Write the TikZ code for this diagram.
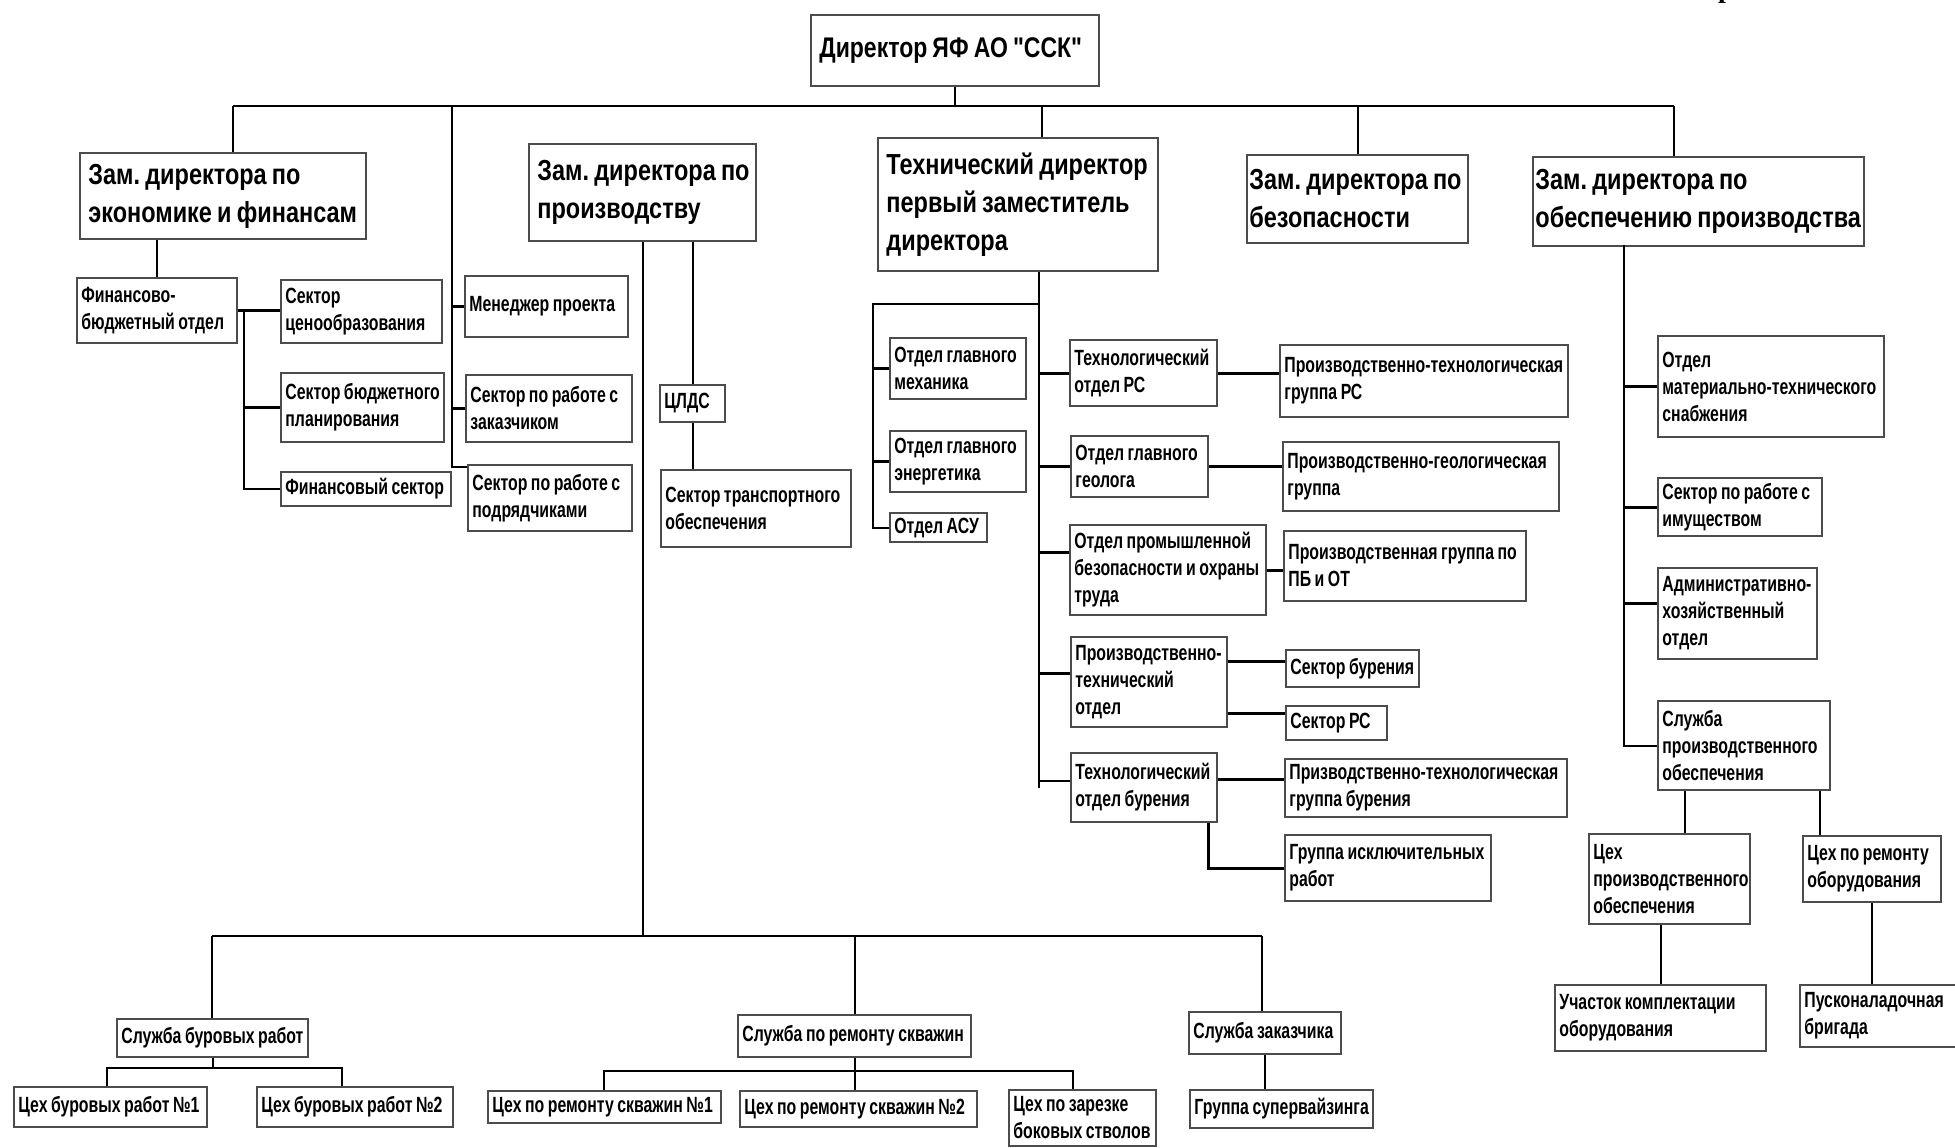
\documentclass[tikz,border=0pt]{standalone}
\usepackage{fontspec}
\setmainfont{Liberation Sans}
\newfontfamily\headfont[FakeStretch=0.81, WordSpace=0.8]{Liberation Sans}
\newfontfamily\unitfont[FakeStretch=0.72, WordSpace=0.8]{Liberation Sans}
\newfontfamily\serifbold{Liberation Serif}
\frenchspacing

\tikzset{
  unit/.style={draw=black!70, line width=1pt, anchor=north west, inner sep=0pt},
  wh/.style 2 args={minimum width=#1*0.5pt, minimum height=#2*0.5pt},
  ulbl/.style={anchor=west, align=left, inner xsep=2.5pt, inner ysep=0pt,
    font=\unitfont\bfseries\fontsize{11}{13.5}\selectfont},
  hlbl/.style={ulbl, inner xsep=4.5pt,
    font=\headfont\bfseries\fontsize{14.5}{19}\selectfont},
  utxt/.style={label={[ulbl]west:{#1}}},
  htxt/.style={label={[hlbl]west:{#1}}},
  bus/.style={line width=1.4pt},
  link/.style={line width=1pt},
  stub/.style={line width=1.5pt}
}

\begin{document}
\begin{tikzpicture}[x=0.5pt, y=-0.5pt]
\useasboundingbox (0,0) rectangle (1955,1147);

% director and deputies
\node[unit, wh={288}{71}, label={[hlbl, font=\headfont\bfseries\fontsize{14.2}{17}\selectfont]west:{Директор ЯФ АО "ССК"}}] (dir) at (810,14) {};
\node[unit, wh={286}{86}, htxt={Зам. директора по\\экономике и финансам}] (zef) at (79,152) {};
\node[unit, wh={227}{97}, htxt={Зам. директора по\\производству}] (zpr) at (528,143) {};
\node[unit, wh={280}{133}, htxt={Технический директор\\первый заместитель\\директора}] (tech) at (877,137) {};
\node[unit, wh={221}{88}, label={[hlbl, inner xsep=1.5pt]west:{Зам. директора по\\безопасности}}] (zbez) at (1246,154) {};
\node[unit, wh={331}{89}, label={[hlbl, inner xsep=1.5pt]west:{Зам. директора по\\обеспечению производства}}] (zob) at (1532,156) {};

% economics
\node[unit, wh={160}{65}, utxt={Финансово-\\бюджетный отдел}] (fbo) at (76,277) {};
\node[unit, wh={161}{63}, utxt={Сектор\\ценообразования}] (scen) at (280,279) {};
\node[unit, wh={163}{69}, utxt={Сектор бюджетного\\планирования}] (sbp) at (280,372) {};
\node[unit, wh={170}{34}, utxt={Финансовый сектор}] (fsec) at (280,471) {};
\node[unit, wh={163}{61}, utxt={Менеджер проекта}] (men) at (464,275) {};
\node[unit, wh={166}{67}, utxt={Сектор по работе с\\заказчиком}] (szak) at (465,374) {};
\node[unit, wh={164}{66}, utxt={Сектор по работе с\\подрядчиками}] (spod) at (467,464) {};

% production
\node[unit, wh={65}{37}, utxt={ЦЛДС}] (clds) at (659,384) {};
\node[unit, wh={190}{77}, utxt={Сектор транспортного\\обеспечения}] (str) at (660,469) {};

% technical
\node[unit, wh={136}{61}, utxt={Отдел главного\\механика}] (ogm) at (889,337) {};
\node[unit, wh={136}{61}, utxt={Отдел главного\\энергетика}] (oge) at (889,430) {};
\node[unit, wh={97}{29}, utxt={Отдел АСУ}] (oasu) at (889,512) {};
\node[unit, wh={147}{66}, utxt={Технологический\\отдел РС}] (torc) at (1069,339) {};
\node[unit, wh={288}{72}, utxt={Производственно-технологическая\\группа РС}] (ptgrc) at (1279,344) {};
\node[unit, wh={137}{61}, utxt={Отдел главного\\геолога}] (ogg) at (1070,435) {};
\node[unit, wh={276}{69}, utxt={Производственно-геологическая\\группа}] (pgg) at (1282,441) {};
\node[unit, wh={196}{90}, utxt={Отдел промышленной\\безопасности и охраны\\труда}] (opb) at (1069,524) {};
\node[unit, wh={242}{70}, utxt={Производственная группа по\\ПБ и ОТ}] (pgpb) at (1283,530) {};
\node[unit, wh={156}{90}, utxt={Производственно-\\технический\\отдел}] (pto) at (1070,636) {};
\node[unit, wh={133}{37}, utxt={Сектор бурения}] (sbur) at (1285,649) {};
\node[unit, wh={101}{34}, utxt={Сектор РС}] (src) at (1285,705) {};
\node[unit, wh={146}{69}, utxt={Технологический\\отдел бурения}] (tob) at (1070,752) {};
\node[unit, wh={282}{58}, utxt={Призводственно-технологическая\\группа бурения}] (ptgb) at (1284,758) {};
\node[unit, wh={206}{66}, utxt={Группа исключительных\\работ}] (gir) at (1284,834) {};

% supply
\node[unit, wh={226}{101}, utxt={Отдел\\материально-технического\\снабжения}] (omts) at (1657,335) {};
\node[unit, wh={164}{58}, utxt={Сектор по работе с\\имуществом}] (sim) at (1657,477) {};
\node[unit, wh={159}{91}, utxt={Административно-\\хозяйственный\\отдел}] (aho) at (1657,567) {};
\node[unit, wh={172}{89}, utxt={Служба\\производственного\\обеспечения}] (spo) at (1657,700) {};
\node[unit, wh={161}{90}, utxt={Цех\\производственного\\обеспечения}] (cpo) at (1588,833) {};
\node[unit, wh={138}{66}, utxt={Цех по ремонту\\оборудования}] (cro) at (1802,835) {};
\node[unit, wh={211}{66}, utxt={Участок комплектации\\оборудования}] (uko) at (1554,984) {};

% services at the bottom
\node[unit, wh={191}{38}, utxt={Служба буровых работ}] (sbr) at (116,1018) {};
\node[unit, wh={233}{42}, utxt={Служба по ремонту скважин}] (srs) at (737,1014) {};
\node[unit, wh={152}{42}, utxt={Служба заказчика}] (szk) at (1188,1011) {};
\node[unit, wh={193}{40}, utxt={Цех буровых работ №1}] (cbr1) at (13,1086) {};
\node[unit, wh={196}{40}, utxt={Цех буровых работ №2}] (cbr2) at (256,1086) {};
\node[unit, wh={233}{32}, utxt={Цех по ремонту скважин №1}] (crs1) at (487,1090) {};
\node[unit, wh={237}{36}, utxt={Цех по ремонту скважин №2}] (crs2) at (739,1090) {};
\node[unit, wh={147}{56}, utxt={Цех по зарезке\\боковых стволов}] (czar) at (1008,1089) {};
\node[unit, wh={183}{38}, utxt={Группа супервайзинга}] (gsup) at (1189,1089) {};

\begin{scope}
\clip (0,0) rectangle (1955,1147);
\node[anchor=south, inner sep=0pt, font=\serifbold\bfseries\fontsize{14}{14}\selectfont] (frag) at (1726,4) {р};
\node[unit, wh={170}{62}, utxt={Пусконаладочная\\бригада}] (pnb) at (1799,984) {};
\end{scope}

% top bus
\coordinate (busL) at (233,106);
\coordinate (busR) at (1674,106);
\coordinate (busE) at (452,106);
\coordinate (busT) at (1042,106);
\draw[bus] (busL) -- (busR);
\draw[link] (dir.south) -- (dir.south |- busL);
\draw[link] (busL) -- (busL |- zef.north);
\draw[link] (busT) -- (busT |- tech.north);
\draw[link] (zbez.north) -- (zbez.north |- busL);
\draw[link] (busR) -- (busR |- zob.north);

% spine of project sectors
\draw[link] (busE) |- ([yshift=-1.5pt]spod.north west);
\draw[stub] (busE |- men.west) -- (men.west);
\draw[stub] (busE |- szak.west) -- (szak.west);

% economics
\draw[link] (fbo.north) -- (fbo.north |- zef.south);
\coordinate (spF) at ([xshift=3pt]fbo.east);
\draw[stub] (fbo.east) -- (fbo.east -| scen.west);
\draw[link] (spF) |- (fsec.west);
\draw[stub] (spF |- sbp.west) -- (sbp.west);

% production
\coordinate (bbL) at (212,936);
\coordinate (bbR) at (1262,936);
\draw[link] (zpr.south) -- (zpr.south |- bbL);
\draw[link] (clds.north) -- (clds.north |- zpr.south);
\draw[link] (clds.south) -- (clds.south |- str.north);
\draw[bus] (bbL) -- (bbR);
\draw[link] (bbL) -- (bbL |- sbr.north);
\draw[link] (srs.north) -- (srs.north |- bbL);
\draw[link] (bbR) -- (bbR |- szk.north);
\coordinate (jA1) at (107,1068);
\coordinate (jA2) at (342,1068);
\draw[bus] (jA1 |- cbr1.north) |- (jA2) -- (jA2 |- cbr2.north);
\draw[link] (sbr.south) -- (sbr.south |- jA1);
\coordinate (jB1) at (604,1071);
\coordinate (jB2) at (1073,1071);
\draw[bus] (jB1 |- crs1.north) |- (jB2) -- (jB2 |- czar.north);
\draw[link] (srs.south) -- (srs.south |- crs2.north);
\draw[link] (szk.south) -- (szk.south |- gsup.north);

% technical
\coordinate (spT) at (1039,304);
\coordinate (spL) at (873,304);
\draw[link] (spT |- tech.south) -- (spT |- tob.west) ++(0,-6.5) -- ([yshift=3.25pt]tob.west);
\draw[link] (spT) -- (spL) |- (oasu.west);
\draw[stub] (spL |- ogm.west) -- (ogm.west);
\draw[stub] (spL |- oge.west) -- (oge.west);
\draw[stub] (spT |- torc.west) -- (torc.west);
\draw[stub] (spT |- ogg.west) -- (ogg.west);
\draw[stub] (spT |- opb.west) ++(0,-18) -- ([yshift=9pt]opb.west);
\draw[stub] (spT |- pto.west) ++(0,-9) -- ([yshift=4.5pt]pto.west);
\draw[stub] (torc.east) -- (torc.east -| ptgrc.west);
\draw[stub] (ogg.east) -- (ogg.east -| pgg.west);
\draw[stub] (opb.east) -- (opb.east -| pgpb.west);
\draw[stub] (pto.east |- sbur.west) ++(0,-7.5) -- ([yshift=3.75pt]sbur.west);
\draw[stub] (pto.east |- src.west) ++(0,-10) -- ([yshift=5pt]src.west);
\draw[stub] ([yshift=4.25pt]tob.east) -- ([yshift=4.25pt]tob.east -| ptgb.west);
\draw[stub] ([xshift=-5pt]tob.south east) |- (gir.west);

% supply
\coordinate (spS) at (1624,245);
\draw[link] (spS) |- (spo.west);
\draw[stub] (spS |- omts.west) -- (omts.west);
\draw[stub] (spS |- sim.west) -- (sim.west);
\draw[stub] (spS |- aho.west) ++(0,-10) -- ([yshift=5pt]aho.west);
\draw[link] ([xshift=7.75pt]cpo.north) -- ([xshift=7.75pt]cpo.north |- spo.south);
\draw[link] ([xshift=-26pt]cro.north) -- ([xshift=-26pt]cro.north |- spo.south);
\draw[link] (uko.north) -- (uko.north |- cpo.south);
\draw[link] (cro.south) -- (cro.south |- pnb.north);
\end{tikzpicture}
\end{document}
